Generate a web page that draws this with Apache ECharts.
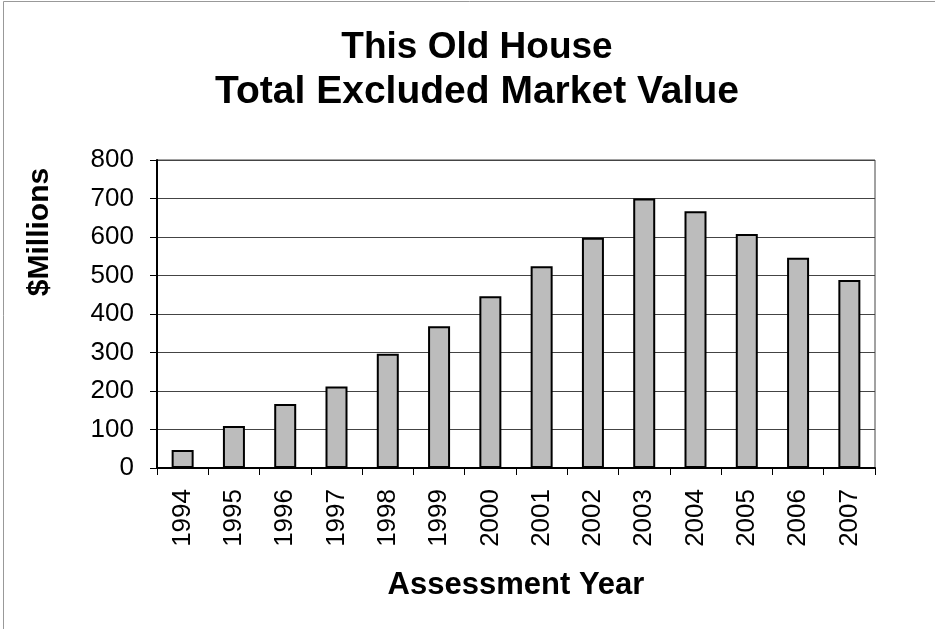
<!DOCTYPE html>
<html>
<head>
<meta charset="utf-8">
<script src="https://cdn.jsdelivr.net/npm/echarts@6/dist/echarts.min.js"></script>
<style>html,body{margin:0;padding:0;background:#fff;}#chart{width:935px;height:629px;}</style>
</head>
<body>
<div id="chart"></div>
<script>
var years = ['1994','1995','1996','1997','1998','1999','2000','2001','2002','2003','2004','2005','2006','2007'];
var values = [47, 109, 166, 212, 297, 368, 446, 524, 598, 700, 667, 608, 546, 488];
var yTicks = [0, 100, 200, 300, 400, 500, 600, 700, 800];

var chart = echarts.init(document.getElementById('chart'));
var font = 'Arial, "Liberation Sans", sans-serif';
chart.setOption({
  animation: false,
  backgroundColor: '#fff',
  title: {
    text: '{a|This Old House}\n{b|Total Excluded Market Value}',
    left: 472,
    top: 21,
    textAlign: 'center',
    textStyle: {
      fontFamily: font, fontSize: 37, fontWeight: 'bold', color: '#000', lineHeight: 44,
      rich: {
        a: { fontFamily: font, fontSize: 37, fontWeight: 'bold', color: '#000', lineHeight: 44 },
        b: { fontFamily: font, fontSize: 39, fontWeight: 'bold', color: '#000', lineHeight: 44 }
      }
    }
  },
  graphic: [
    { type: 'rect', shape: { x: 3.5, y: 1.5, width: 1000, height: 1000 }, style: { fill: null, stroke: '#999', lineWidth: 1 }, silent: true },
    { type: 'text', x: 40, y: 232, rotation: Math.PI / 2,
      style: { text: '$Millions', fontFamily: font, fontSize: 30, fontWeight: 'bold', fill: '#000', textAlign: 'center', textVerticalAlign: 'middle' } }
  ],
  grid: { left: 157, right: 60, top: 160, bottom: 161, show: true, borderColor: '#444', borderWidth: 1 },
  xAxis: {
    type: 'category',
    data: years,
    boundaryGap: true,
    name: 'Assessment Year',
    nameLocation: 'middle',
    nameGap: 102,
    nameTextStyle: { fontFamily: font, fontSize: 31, fontWeight: 'bold', color: '#000' },
    axisLine: { lineStyle: { color: '#000', width: 2 } },
    axisTick: { show: true, alignWithLabel: false, length: 7, lineStyle: { color: '#000', width: 1 } },
    axisLabel: { rotate: 90, margin: 21, fontFamily: font, fontSize: 26, color: '#000', interval: 0 }
  },
  yAxis: {
    type: 'value',
    min: yTicks[0],
    max: yTicks[yTicks.length - 1],
    interval: 100,
    axisLine: { show: true, lineStyle: { color: '#000', width: 2 } },
    axisTick: { show: true, length: 7, lineStyle: { color: '#000', width: 1 } },
    axisLabel: { margin: 23, fontFamily: font, fontSize: 26, color: '#000' },
    splitLine: { show: true, lineStyle: { color: '#444', width: 1 } }
  },
  series: [{
    type: 'bar',
    data: values,
    barWidth: 22,
    itemStyle: { color: '#bcbcbc', borderColor: '#000', borderWidth: 2 }
  }]
});
</script>
</body>
</html>
